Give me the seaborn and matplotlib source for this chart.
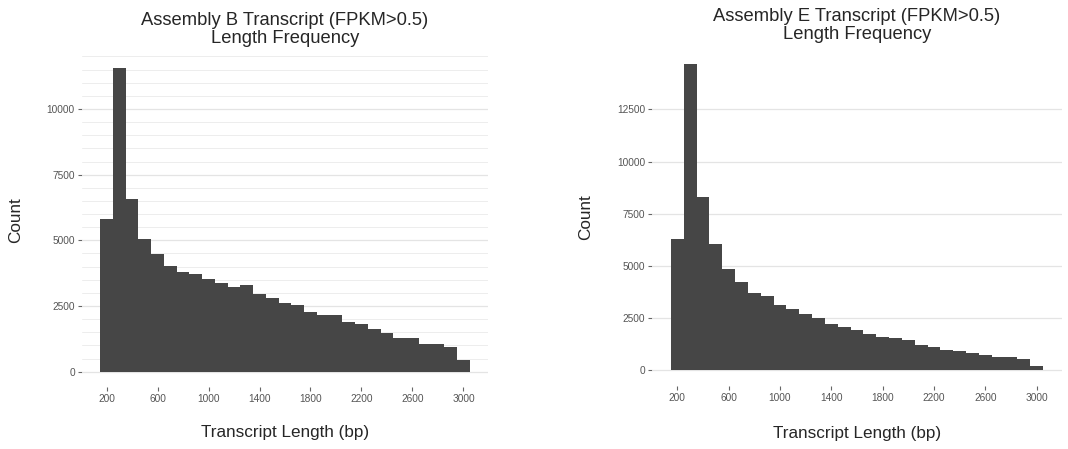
import matplotlib
matplotlib.use("Agg")
import matplotlib.pyplot as plt
import seaborn as sns

# Transcript length bins (bin centres, bp) and counts per assembly
bin_centers = list(range(200, 3001, 100))
counts_b = [5800, 11550, 6570, 5050, 4470, 4040, 3800, 3710, 3520, 3370,
            3240, 3300, 2960, 2800, 2630, 2530, 2290, 2160, 2150, 1910,
            1810, 1630, 1490, 1300, 1290, 1050, 1040, 960, 430]
counts_e = [6300, 14680, 8300, 6070, 4860, 4250, 3710, 3550, 3120, 2930,
            2700, 2500, 2220, 2080, 1950, 1760, 1610, 1540, 1470, 1230,
            1120, 990, 900, 820, 750, 660, 620, 560, 225]

titles = ["Assembly B Transcript (FPKM>0.5)\nLength Frequency",
          "Assembly E Transcript (FPKM>0.5)\nLength Frequency"]
x_ticks = [200, 600, 1000, 1400, 1800, 2200, 2600, 3000]
y_ticks_b = [0, 2500, 5000, 7500, 10000]
y_ticks_e = [0, 2500, 5000, 7500, 10000, 12500]

sns.set_theme(style="white")
plt.rcParams["font.family"] = ["Liberation Sans", "DejaVu Sans"]

W, H = 1068, 449
fig = plt.figure(figsize=(W / 100, H / 100), dpi=100)

BAR = "#464646"
TICK_COL = "#555555"
TITLE_COL = "#262626"


def px_axes(left, top, right, bottom):
    return fig.add_axes([left / W, 1 - bottom / H, (right - left) / W, (bottom - top) / H])


def draw_panel(ax, counts, title, yticks, minor_step):
    sns.histplot(x=bin_centers, weights=counts, binwidth=100, binrange=(150, 3050),
                 color=BAR, alpha=1, linewidth=0, edgecolor=None, ax=ax, zorder=3)
    top = max(counts)
    ax.set_xlim(5, 3195)
    ax.set_ylim(-0.05 * top, 1.05 * top)
    ax.set_xticks(x_ticks)
    ax.set_xticklabels([str(t) for t in x_ticks])
    ax.set_yticks(yticks)
    ax.set_yticklabels([str(t) for t in yticks])
    for s in ax.spines.values():
        s.set_visible(False)
    ax.grid(False)
    # horizontal grid lines
    if minor_step:
        y = 0
        while y <= 1.05 * top:
            ax.axhline(y, color="#EDEDED", lw=0.7, zorder=0)
            y += minor_step
    for y in yticks:
        ax.axhline(y, color="#E4E4E4", lw=0.9, zorder=1)
    ax.tick_params(axis="both", which="major", length=3, width=0.8, color="#666666",
                   labelsize=7.3, labelcolor=TICK_COL, pad=2, left=True, bottom=True)
    ax.set_title(title, fontsize=13.2, color=TITLE_COL, pad=7, linespacing=1.1)
    ax.set_xlabel("Transcript Length (bp)", fontsize=12.3, color=TITLE_COL)
    ax.set_ylabel("Count", fontsize=12.3, color=TITLE_COL)
    ax.xaxis.label.set_va("center")
    ax.yaxis.label.set_va("center")


ax1 = px_axes(81.7, 53.1, 488.3, 386.9)
draw_panel(ax1, counts_b, titles[0], y_ticks_b, 500)
ax1.xaxis.set_label_coords(0.5, -46.1 / 333.8)
ax1.yaxis.set_label_coords(-65.7 / 406.6, 0.5)

ax2 = px_axes(652.3, 48.6, 1061.7, 385.6)
draw_panel(ax2, counts_e, titles[1], y_ticks_e, None)
ax2.xaxis.set_label_coords(0.5, -48.0 / 337.0)
ax2.yaxis.set_label_coords(-66.6 / 409.4, 0.5)

fig.savefig("out.png", dpi=100, facecolor="white")
